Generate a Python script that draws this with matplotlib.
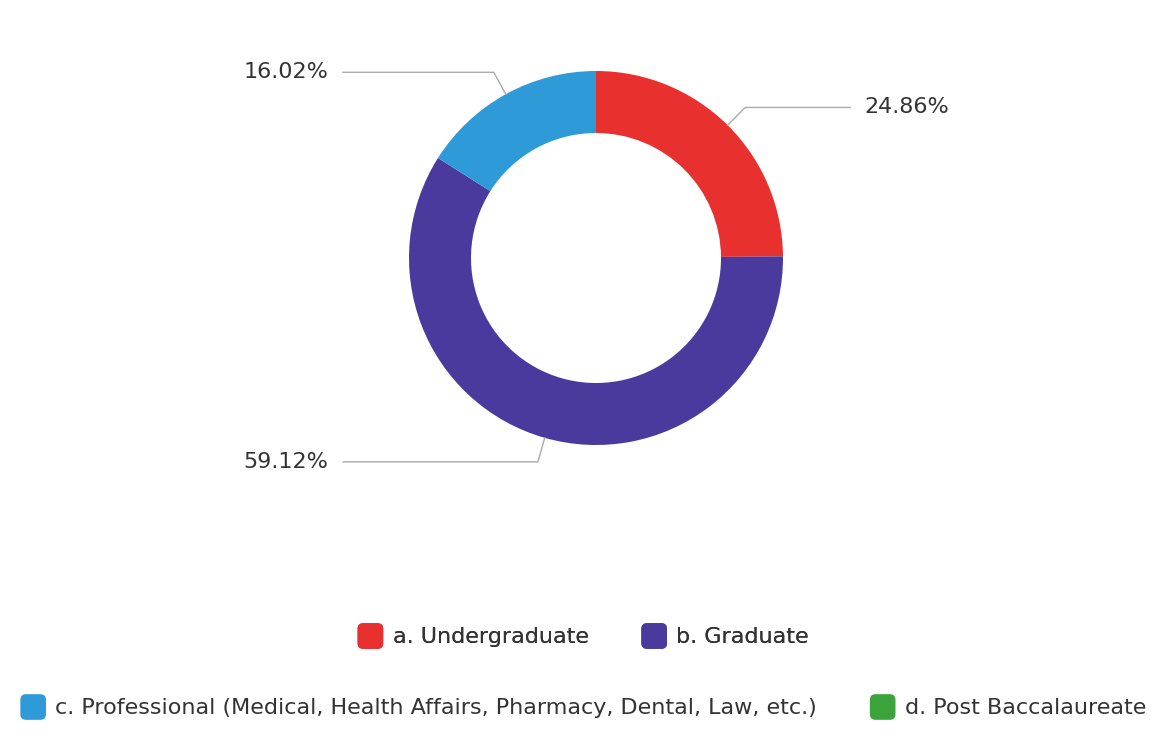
import numpy as np
import matplotlib.pyplot as plt
from matplotlib.patches import Patch, FancyBboxPatch
from matplotlib.legend_handler import HandlerPatch

# Data
categories = ['a. Undergraduate', 'b. Graduate',
              'c. Professional (Medical, Health Affairs, Pharmacy, Dental, Law, etc.)',
              'd. Post Baccalaureate']
shares = [24.86, 59.12, 16.02, 0.0]
colors = ['#e8302f', '#4b3a9e', '#2f9ad8', '#3aa43a']

plt.rcParams['font.family'] = ['DejaVu Sans']

fig = plt.figure(figsize=(11.72, 7.41), dpi=100)
ax = fig.add_axes([0, 0, 1, 1])

cx, cy, R = 596, 483, 187
wedges, _ = ax.pie(shares, colors=colors, startangle=90, counterclock=False,
                   radius=R, center=(cx, cy), frame=True,
                   wedgeprops=dict(width=62, edgecolor='none'))
ax.set_xlim(0, 1172)
ax.set_ylim(0, 741)
ax.axis('off')

# leader lines + percentage labels
text_col = '#333333'
line_col = '#aaaaaa'
for w, v in zip(wedges, shares):
    if v <= 0:
        continue
    ang = np.deg2rad((w.theta1 + w.theta2) / 2)
    x0 = cx + R * np.cos(ang)
    y0 = cy + R * np.sin(ang)
    x1 = cx + (R + 25) * np.cos(ang)
    y1 = cy + (R + 25) * np.sin(ang)
    if np.cos(ang) >= 0:
        x2 = x1 + 105
        ax.plot([x0, x1, x2], [y0, y1, y1], color=line_col, lw=1)
        ax.text(x2 + 14, y1, f'{v:.2f}%', ha='left', va='center',
                fontsize=16, color=text_col)
    else:
        x2 = 343
        ax.plot([x0, x1, x2], [y0, y1, y1], color=line_col, lw=1)
        ax.text(x2 - 15, y1, f'{v:.2f}%', ha='right', va='center',
                fontsize=16, color=text_col)


# rounded square legend keys
def rounded_key(legend, orig_handle, xdescent, ydescent, width, height, fontsize):
    s = min(width, height)
    return FancyBboxPatch((-xdescent + (width - s) / 2, -ydescent + (height - s) / 2),
                          s, s, boxstyle=f'round,pad=0,rounding_size={s * 0.2}')


handles = [Patch(facecolor=c, edgecolor=c) for c in colors]
hmap = {Patch: HandlerPatch(patch_func=rounded_key)}
kw = dict(ncol=2, loc='center', frameon=False, fontsize=16,
          handletextpad=0.35, columnspacing=2.3, handlelength=1.3,
          handleheight=1.3, labelcolor=text_col, handler_map=hmap)
leg1 = fig.legend(handles[:2], categories[:2],
                  bbox_to_anchor=(0.497, 1 - 636 / 741), **kw)
fig.add_artist(leg1)
fig.legend(handles[2:], categories[2:],
           bbox_to_anchor=(0.497, 1 - 707 / 741), **kw)

fig.savefig('out.png', dpi=100, facecolor='white')
